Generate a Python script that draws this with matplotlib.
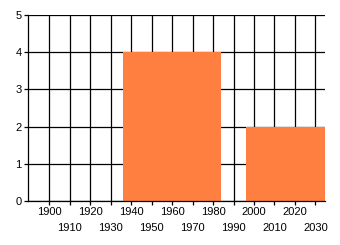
import numpy as np
import matplotlib
matplotlib.use('Agg')
import matplotlib.pyplot as plt

# bar data
bar_x = [1960, 2020]
bar_h = [4, 2]
bar_w = 48

xticks = list(range(1900, 2040, 10))
yticks = [0, 1, 2, 3, 4, 5]

plt.rcParams['font.family'] = ['Liberation Sans', 'DejaVu Sans']
plt.rcParams['font.size'] = 8

fig = plt.figure(figsize=(3.4, 2.45), dpi=100)
ax = fig.add_axes([28/340, 1 - 201/245, (325-28)/340, (201-15)/245])

ax.bar(bar_x, bar_h, width=bar_w, color='#fe7f3f', zorder=3)

ax.set_xlim(1889.6, 2034.7)
ax.set_ylim(0, 5)
ax.set_xticks(xticks)
ax.set_xticklabels([str(t) for t in xticks])
ax.set_yticks(yticks)
ax.grid(True, color='black', linewidth=0.9, zorder=0)
ax.set_axisbelow(True)

for s in ['top', 'right']:
    ax.spines[s].set_visible(False)
for s in ['left', 'bottom']:
    ax.spines[s].set_linewidth(0.9)
    ax.spines[s].set_zorder(4)

ax.tick_params(axis='both', length=3, width=0.9, pad=1.5, labelsize=8)
# stagger the decade labels onto two rows
for i, tick in enumerate(ax.xaxis.get_major_ticks()):
    if i % 2 == 1:
        tick.set_pad(13)

fig.savefig('out.png', dpi=100)
